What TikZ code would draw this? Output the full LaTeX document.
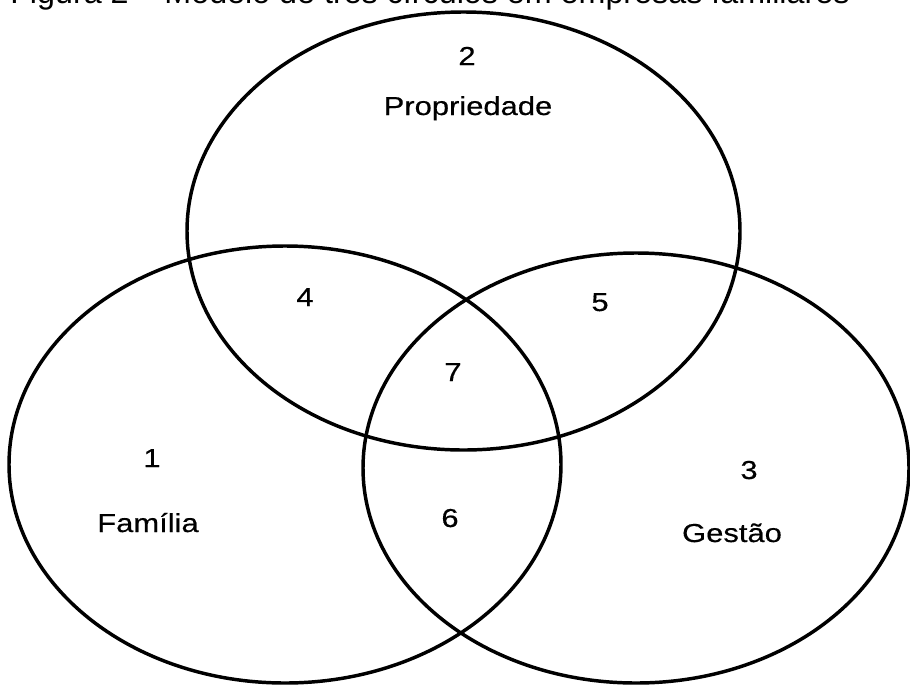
\documentclass[tikz,border=0pt]{standalone}
\usepackage{fontspec}
\setmainfont{Liberation Sans}
\newfontfamily\lblfont[FakeStretch=1.19,FakeBold=0.4]{Liberation Sans}
\begin{document}
\begin{tikzpicture}[x=0.75pt,y=-0.75pt,
  ring/.style={line width=2.6pt, draw=black},
  lbl/.style={font=\lblfont\fontsize{19.5pt}{22pt}\selectfont, anchor=base, inner sep=0pt},
  ttl/.style={font=\fontsize{24.2pt}{28pt}\selectfont, anchor=base west, inner sep=0pt}]
\useasboundingbox (0,0) rectangle (910,686);
\clip (0,0) rectangle (910,686);
\fill[white] (0,0) rectangle (910,686);
\node[ttl] (title) at (10,3) {Figura 2 – Modelo de três círculos em empresas familiares};
% circles
\draw[ring] (463.5,231) ellipse [x radius=276.5, y radius=219];
\draw[ring] (285,464.5) ellipse [x radius=276, y radius=218.5];
\draw[ring] (636,468) ellipse [x radius=273, y radius=215];
% labels
\node[lbl] (n2) at (467,65) {2};
\node[lbl] (prop) at (468,115) {Propriedade};
\node[lbl] (n4) at (305,306) {4};
\node[lbl] (n5) at (600,311) {5};
\node[lbl] (n7) at (453,381) {7};
\node[lbl] (n1) at (152,467) {1};
\node[lbl] (fam) at (148,532) {Família};
\node[lbl] (n6) at (450,527) {6};
\node[lbl] (n3) at (749,479) {3};
\node[lbl] (ges) at (732,542) {Gestão};
\end{tikzpicture}
\end{document}
